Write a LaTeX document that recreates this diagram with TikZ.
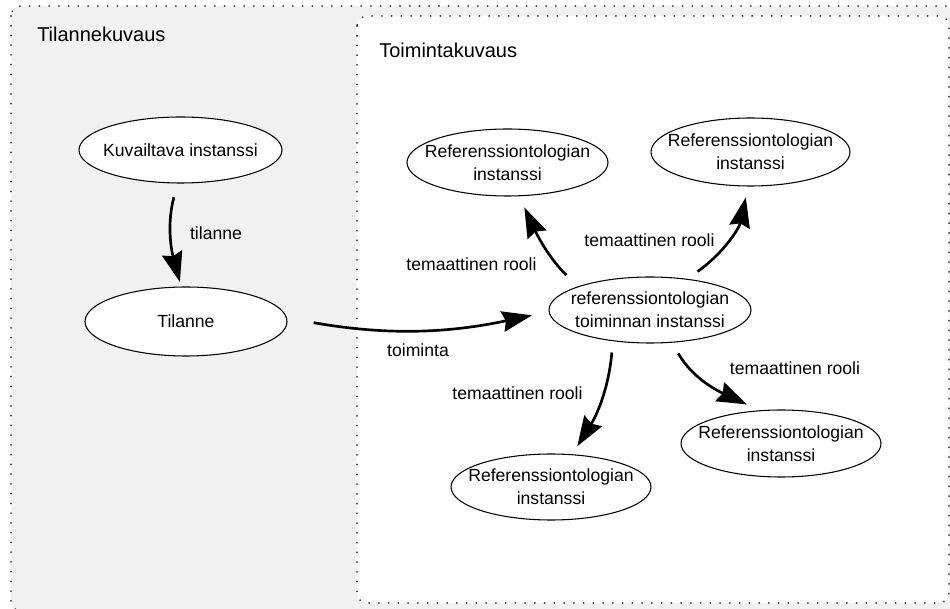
\documentclass[tikz,border=0pt]{standalone}
\usepackage{fontspec}
\setmainfont{Liberation Sans}
\usetikzlibrary{arrows.meta,shapes.geometric}
\definecolor{panelgray}{HTML}{F1F1F1}
\definecolor{dotgray}{HTML}{3C3C3C}
\begin{document}
\begin{tikzpicture}[x=0.75pt,y=-0.75pt,
  panel/.style={draw=dotgray, line width=1.5pt, dash pattern=on 0.01pt off 7.3pt,
    line cap=round, rounded corners=7.5pt},
  ent/.style={ellipse, draw=black, line width=0.8pt, fill=white,
    inner xsep=-40pt, inner ysep=-14pt, align=center,
    font=\fontsize{13.2}{17.25}\selectfont},
  lbl/.style={anchor=base, inner sep=0pt, font=\fontsize{13.2}{15.6}\selectfont},
  ttl/.style={anchor=base west, inner sep=0pt, font=\fontsize{15}{18}\selectfont},
  rel/.style={line width=2pt, -{Stealth[length=22.5pt,width=15.5pt,inset=2.5pt]}},
]
\useasboundingbox (0,0) rectangle (950,609);
\clip (0,0) rectangle (950,609);

% panels
\draw[panel, fill=panelgray] (11,6) rectangle (962,611);
\draw[panel, fill=white] (357,16) rectangle (949,603);

\node[ttl] (t1) at (37,42) {Tilannekuvaus};
\node[ttl] (t2) at (379,58) {Toimintakuvaus};

% entities
\node[ent, minimum width=152.25pt, minimum height=49.5pt] (kuv) at (180.5,150) {Kuvailtava instanssi};
\node[ent, minimum width=151.5pt, minimum height=51.75pt] (til) at (186,321.5) {Tilanne};
\node[ent, minimum width=151.5pt, minimum height=49.5pt] (cen) at (650,310) {referenssiontologian\\toiminnan instanssi};
\node[ent, minimum width=150.75pt, minimum height=50.25pt] (rtl) at (507.5,162.5) {Referenssiontologian\\instanssi};
\node[ent, minimum width=149.25pt, minimum height=51pt] (rtr) at (750.5,152) {Referenssiontologian\\instanssi};
\node[ent, minimum width=150pt, minimum height=49.5pt] (rb) at (551,487) {Referenssiontologian\\instanssi};
\node[ent, minimum width=150pt, minimum height=50.25pt] (rbr) at (781,443.5) {Referenssiontologian\\instanssi};

% relation labels
\node[lbl] (l1) at (216,240) {tilanne};
\node[lbl] (l2) at (418,357) {toiminta};
\node[lbl] (l3) at (471.5,271) {temaattinen rooli};
\node[lbl] (l4) at (649.5,247) {temaattinen rooli};
\node[lbl] (l5) at (517.5,400) {temaattinen rooli};
\node[lbl] (l6) at (795,375) {temaattinen rooli};

% relations
\draw[rel, shorten <=10.7pt, shorten >=3.5pt] (kuv.265) to[out=255,in=105] (til.98);
\draw[rel, shorten <=20.25pt, shorten >=12.75pt] (til.2) to[out=-10,in=192] (cen.181);
\draw[rel, shorten <=12pt, shorten >=9.2pt] (cen.162) to[out=135,in=295] (rtl.289);
\draw[rel, shorten <=9.45pt, shorten >=8.25pt] (cen.40) to[out=35,in=258] (rtr.266);
\draw[rel, shorten <=8.5pt, shorten >=7pt] (cen.220) to[out=265,in=58] (rb.57);
\draw[rel, shorten <=9.3pt, shorten >=10.3pt] (cen.304) to[out=300,in=155] (rbr.123);
\end{tikzpicture}
\end{document}
